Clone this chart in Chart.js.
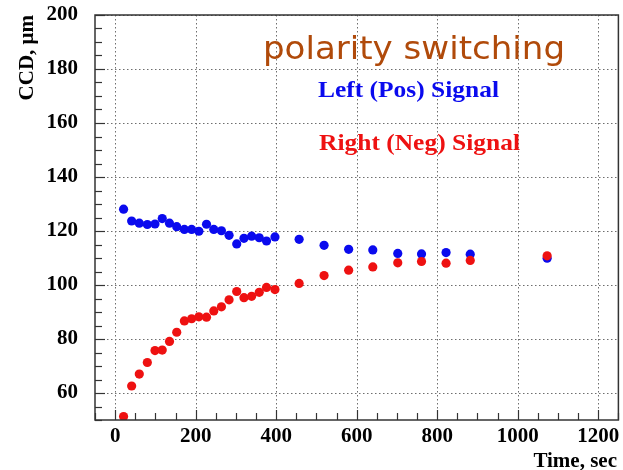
<!DOCTYPE html>
<html>
<head>
<meta charset="utf-8">
<script src="https://cdn.jsdelivr.net/npm/chart.js@4"></script>
<style>
  html, body { margin: 0; padding: 0; background: #fff; }
  #wrap { width: 623px; height: 470px; position: relative; }
</style>
</head>
<body>
<div id="wrap"><canvas id="ccdChart"></canvas></div>
<script>
// ===== DATA =====
const timeSec = [21, 41, 60, 80, 99, 117, 135, 153, 172, 190, 208, 227, 245, 264, 283, 302, 320, 339, 358, 376, 397, 457, 519, 580, 640, 702, 761, 822, 882, 1073];
const leftPos = [128.1, 123.7, 122.9, 122.4, 122.6, 124.6, 122.9, 121.6, 120.6, 120.6, 119.9, 122.5, 120.6, 120.1, 118.4, 115.2, 117.3, 118.1, 117.5, 116.3, 117.8, 116.9, 114.7, 113.2, 113.0, 111.7, 111.5, 112.0, 111.4, 109.9];
const rightNeg = [51.3, 62.6, 67.0, 71.3, 75.7, 75.9, 79.1, 82.5, 86.7, 87.5, 88.2, 88.1, 90.4, 91.9, 94.5, 97.6, 95.3, 95.8, 97.3, 99.1, 98.3, 100.6, 103.5, 105.5, 106.7, 108.2, 108.7, 108.1, 109.1, 110.8];

const xTicks = [0, 200, 400, 600, 800, 1000, 1200];
const yTicks = [60, 80, 100, 120, 140, 160, 180, 200];

const BLUE = '#0a0aee';
const RED = '#ee1111';
const serif = '"Liberation Serif", "DejaVu Serif", serif';

function pts(ys) {
  return timeSec.map((t, i) => ({ x: t, y: ys[i] }));
}

// draw text squeezed/stretched to a given width
function fitText(ctx, text, x, y, width) {
  const w = ctx.measureText(text).width;
  ctx.save();
  ctx.translate(x, y);
  ctx.scale(width / w, 1);
  ctx.fillText(text, 0, 0);
  ctx.restore();
}

// dotted grid under the points
const gridPlugin = {
  id: 'dotgrid',
  beforeDatasetsDraw(chart) {
    const { ctx, chartArea: a, scales } = chart;
    ctx.save();
    ctx.strokeStyle = '#6e6e6e';
    ctx.lineWidth = 1;
    ctx.setLineDash([1.5, 2.5]);
    xTicks.forEach(v => {
      const px = Math.round(scales.x.getPixelForValue(v)) + 0.5;
      ctx.beginPath(); ctx.moveTo(px, a.top); ctx.lineTo(px, a.bottom); ctx.stroke();
    });
    yTicks.forEach(v => {
      const py = Math.round(scales.y.getPixelForValue(v)) + 0.5;
      ctx.beginPath(); ctx.moveTo(a.left, py); ctx.lineTo(a.right, py); ctx.stroke();
    });
    ctx.restore();
  }
};

// frame + inward ticks, ROOT style
const framePlugin = {
  id: 'frame',
  afterDraw(chart) {
    const { ctx, chartArea: a, scales } = chart;
    ctx.save();
    ctx.strokeStyle = '#333';
    ctx.lineWidth = 1.2;
    for (let v = -50; v <= 1250; v += 50) {
      const px = Math.round(scales.x.getPixelForValue(v)) + 0.5;
      const len = v % 200 === 0 ? 10 : 7;
      ctx.beginPath(); ctx.moveTo(px, a.bottom); ctx.lineTo(px, a.bottom - len); ctx.stroke();
    }
    for (let v = 50; v <= 200; v += 5) {
      const py = Math.round(scales.y.getPixelForValue(v)) + 0.5;
      const len = v % 20 === 0 ? 10 : 7;
      ctx.beginPath(); ctx.moveTo(a.left, py); ctx.lineTo(a.left + len, py); ctx.stroke();
    }
    ctx.lineWidth = 1.5;
    ctx.strokeRect(a.left, a.top, a.right - a.left, a.bottom - a.top);
    ctx.restore();
  }
};

const textPlugin = {
  id: 'labels',
  afterDraw(chart) {
    const { ctx } = chart;
    ctx.save();
    ctx.textBaseline = 'alphabetic';
    ctx.textAlign = 'left';
    ctx.fillStyle = '#b04a0a';
    ctx.font = '32px "DejaVu Sans", sans-serif';
    fitText(ctx, 'polarity switching', 263, 59, 302);
    ctx.font = 'bold 23px ' + serif;
    ctx.fillStyle = BLUE;
    fitText(ctx, 'Left (Pos) Signal', 318, 97, 181);
    ctx.fillStyle = RED;
    fitText(ctx, 'Right (Neg) Signal', 319, 150, 201);

    // axis titles
    ctx.fillStyle = '#000';
    ctx.font = 'bold 21px ' + serif;
    ctx.textAlign = 'right';
    ctx.fillText('Time, sec', 617, 467);
    ctx.translate(33, 15);
    ctx.rotate(-Math.PI / 2);
    ctx.fillText('CCD, μm', 0, 0);
    ctx.restore();
  }
};

new Chart(document.getElementById('ccdChart'), {
  type: 'scatter',
  data: {
    datasets: [
      { label: 'Left (Pos) Signal', data: pts(leftPos), backgroundColor: BLUE, borderColor: BLUE, pointRadius: 4.6, borderWidth: 0, order: 1 },
      { label: 'Right (Neg) Signal', data: pts(rightNeg), backgroundColor: RED, borderColor: RED, pointRadius: 4.6, borderWidth: 0, order: 0 }
    ]
  },
  options: {
    responsive: true,
    maintainAspectRatio: false,
    animation: false,
    layout: { padding: { top: 15, right: 3, left: 0, bottom: 0 } },
    plugins: { legend: { display: false }, tooltip: { enabled: false } },
    scales: {
      x: {
        type: 'linear', min: -50, max: 1250,
        afterBuildTicks: s => { s.ticks = xTicks.map(v => ({ value: v })); },
        afterFit: s => { s.height = 50; s.paddingLeft = 0; s.paddingRight = 0; },
        grid: { drawOnChartArea: false, drawTicks: false },
        border: { display: false },
        ticks: { color: '#000', padding: 4, maxRotation: 0, callback: v => String(v), font: { family: serif, size: 21, weight: 'bold' } },
        title: { display: false }
      },
      y: {
        type: 'linear', min: 50, max: 200,
        afterBuildTicks: s => { s.ticks = yTicks.map(v => ({ value: v })); },
        afterFit: s => { s.width = 95; s.paddingTop = 0; s.paddingBottom = 0; },
        grid: { drawOnChartArea: false, drawTicks: false },
        border: { display: false },
        ticks: { color: '#000', padding: 17, callback: v => String(v), font: { family: serif, size: 21, weight: 'bold' } },
        title: { display: false }
      }
    }
  },
  plugins: [gridPlugin, framePlugin, textPlugin]
});
</script>
</body>
</html>
